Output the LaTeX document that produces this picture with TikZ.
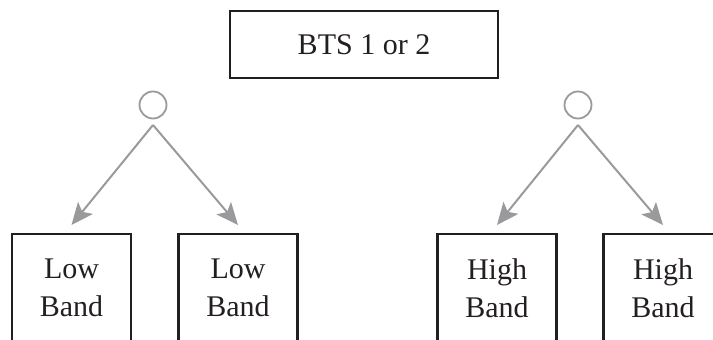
\documentclass[tikz,border=0pt]{standalone}
\usepackage{fontspec}
\setmainfont{Liberation Serif}
\usetikzlibrary{arrows.meta}
\definecolor{arrowgray}{HTML}{9A9A9C}
\definecolor{boxline}{HTML}{231F20}
\begin{document}
\begin{tikzpicture}[x=1pt,y=-1pt,
  txt/.style={font=\fontsize{30}{38}\selectfont, text=boxline, align=center, inner sep=0pt},
  topbox/.style={draw=boxline, line width=2.5pt, minimum width=268pt, minimum height=67pt, inner sep=0pt, font=\fontsize{30}{36}\selectfont, text=boxline},
  bandbox/.style={draw=boxline, line width=2.5pt, minimum width=119pt, minimum height=160pt, anchor=north, inner sep=0pt},
  split/.style={draw=arrowgray, line width=1.8pt, circle, minimum size=27pt, inner sep=0pt},
  conn/.style={draw=arrowgray, line width=2pt, line join=round, -{Stealth[length=22pt,width=19pt,inset=5pt]}}
]
\useasboundingbox (0,0) rectangle (713,340);
\clip (0,0) rectangle (713,340);
\node[topbox] (bts) at (364,44.5) {BTS 1 or 2};
\node[split] (c1) at (153,105) {};
\node[split] (c2) at (578,105) {};
\coordinate (a1) at (153,125);
\coordinate (a2) at (578,125);
\node[bandbox] (b1) at (71.5,232.5) {};
\node[bandbox] (b2) at (238,232.5) {};
\node[bandbox] (b3) at (497,232.5) {};
\node[bandbox] (b4) at (663,232.5) {};
\coordinate (e1) at ([yshift=7.5pt]b1.north);
\coordinate (e2) at ([yshift=7.5pt]b2.north);
\coordinate (e3) at ([yshift=7.5pt]b3.north);
\coordinate (e4) at ([yshift=7.5pt]b4.north);
\node[txt, anchor=north] (t1) at ([yshift=-26pt]b1.north) {Low\\Band};
\node[txt, anchor=north] (t2) at ([yshift=-26pt]b2.north) {Low\\Band};
\node[txt, anchor=north] (t3) at ([yshift=-26pt]b3.north) {High\\Band};
\node[txt, anchor=north] (t4) at ([yshift=-26pt]b4.north) {High\\Band};
\draw[conn] (a1) -- (e1);
\draw[conn] (a1) -- (e2);
\draw[conn] (a2) -- (e3);
\draw[conn] (a2) -- (e4);
\end{tikzpicture}
\end{document}
